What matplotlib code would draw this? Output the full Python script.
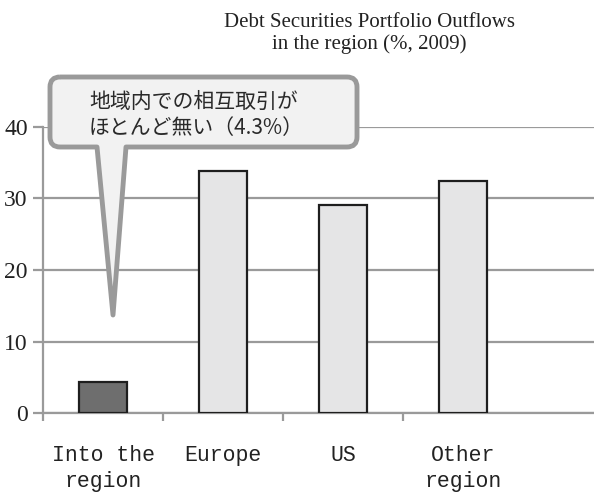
import matplotlib.pyplot as plt
from matplotlib.path import Path
from matplotlib.patches import PathPatch
import numpy as np

plt.rcParams['font.family'] = ['Liberation Serif', 'DejaVu Serif']

categories = ["Into the\nregion", "Europe", "US", "Other\nregion"]
shares = [4.3, 33.8, 29.1, 32.5]
bar_colors = ["#6e6e6e", "#e5e5e6", "#e5e5e6", "#e5e5e6"]
yticks = [0, 10, 20, 30, 40]
title = "Debt Securities Portfolio Outflows\nin the region (%, 2009)"
note = "地域内での相互取引が\nほとんど無い（4.3%）"

W, H = 594, 498
fig = plt.figure(figsize=(W / 100, H / 100), dpi=100)
ax = fig.add_axes([43 / W, 85 / H, 1 - 43 / W, 286 / H])

x = np.arange(len(categories))
ax.bar(x, shares, width=0.4, color=bar_colors, edgecolor="#1e1e1e", linewidth=1.6, zorder=3)

ax.set_xlim(-0.5, 4.09)
ax.set_ylim(0, 40)
ax.set_yticks(yticks)
ax.set_yticklabels([str(v) for v in yticks], fontsize=17, color="#222222")
ax.yaxis.grid(True, color="#9a9a9a", linewidth=1.6, zorder=0)
ax.set_axisbelow(True)

ax.set_xticks(x)
ax.set_xticklabels(categories, fontsize=15.5, family=["Liberation Mono", "DejaVu Sans Mono"],
                   color="#222222", linespacing=1.3)
ax.set_xticks(np.arange(len(categories)) - 0.5, minor=True)
ax.tick_params(axis="x", which="major", length=0, pad=23)
ax.tick_params(axis="x", which="minor", length=6, width=1.6, color="#9a9a9a", direction="out")
ax.tick_params(axis="y", length=7, width=1.6, color="#9a9a9a", pad=4)

for side in ["top", "right"]:
    ax.spines[side].set_visible(False)
for side in ["left", "bottom"]:
    ax.spines[side].set_color("#9a9a9a")
    ax.spines[side].set_linewidth(1.6)

fig.text(369 / W, 1 - 33.5 / H, title, ha="center", va="center", fontsize=15,
         color="#222222", linespacing=1.1)


# speech bubble with a pointer, built in pixel coordinates
def px(pts):
    return [(a / W, 1 - b / H) for a, b in pts]


L, R, T, B, r = 50, 357, 77, 147, 10
pl, pr, tip = 97, 126, (113, 315)
verts = [
    (L + r, T), (R - r, T), (R, T), (R, T + r),
    (R, B - r), (R, B), (R - r, B),
    (pr, B), tip, (pl, B),
    (L + r, B), (L, B), (L, B - r),
    (L, T + r), (L, T), (L + r, T),
]
codes = [Path.MOVETO, Path.LINETO, Path.CURVE3, Path.CURVE3,
         Path.LINETO, Path.CURVE3, Path.CURVE3,
         Path.LINETO, Path.LINETO, Path.LINETO,
         Path.LINETO, Path.CURVE3, Path.CURVE3,
         Path.LINETO, Path.CURVE3, Path.CURVE3]
bubble = PathPatch(Path(px(verts), codes), transform=fig.transFigure,
                   facecolor="#f2f2f2", edgecolor="#9a9a9a", linewidth=3.5,
                   joinstyle="round", zorder=10)
fig.add_artist(bubble)
fig.text(89 / W, 1 - 115 / H, note, ha="left", va="center", fontsize=15,
         family=["Noto Sans CJK JP", "DejaVu Sans"], color="#2a2a2a",
         linespacing=1.2, zorder=11)

fig.savefig("out.png", dpi=100)
